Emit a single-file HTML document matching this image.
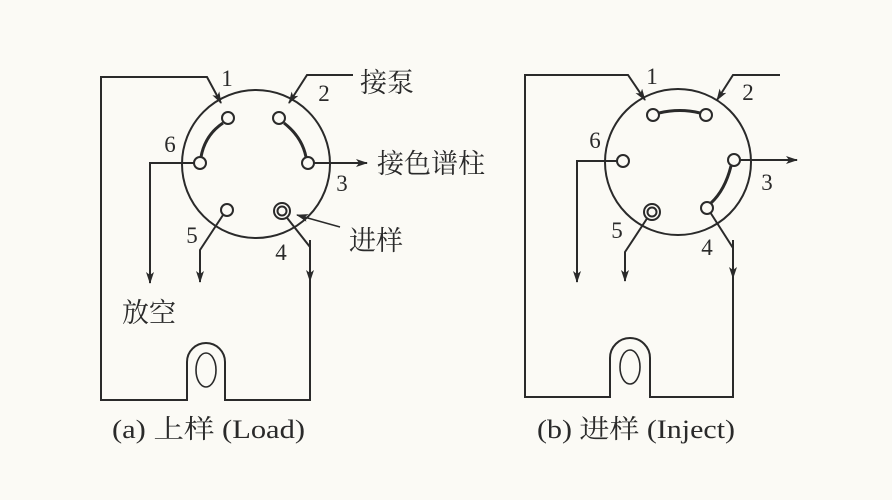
<!DOCTYPE html>
<html><head><meta charset="utf-8"><style>
body{margin:0;background:#fbfaf5}
svg text{font-family:"Liberation Serif","Noto Serif CJK SC",serif;fill:#2a2a2a}
</style></head><body>
<svg width="892" height="495" viewBox="0 0 892 495" xmlns="http://www.w3.org/2000/svg">
<defs><marker id="a" markerWidth="12" markerHeight="8" refX="11" refY="4" orient="auto" markerUnits="userSpaceOnUse"><path d="M0,0 L12,4 L0,8 L3,4z" fill="#2a2a2a"/></marker></defs>
<g stroke="#2a2a2a" stroke-width="2" fill="none">
<circle cx="256" cy="164" r="74"/>
<path d="M310,277 V247 L284,214"/>
<path d="M310,277 V400 H225 V362 A19,19 0 0 0 187,362 V400 H101 V77 H207 L221,103" marker-end="url(#a)"/>
<path d="M310,240 V281" marker-end="url(#a)"/>
<path d="M353,75 H307 L289,103" marker-end="url(#a)"/>
<path d="M194,163 H150 V283" marker-end="url(#a)"/>
<path d="M223,215 L200,250 V282" marker-end="url(#a)"/>
<path d="M314,163 H367" marker-end="url(#a)"/>
<path d="M340,227 L297,215" stroke-width="1.5" marker-end="url(#a)"/>
<ellipse cx="206" cy="370" rx="10" ry="17" stroke-width="1.6"/>
<path d="M223,123 Q205,135 201,157" stroke-width="3"/>
<path d="M284,123 Q302,137 306,157" stroke-width="3"/>
<g fill="#fbfaf5"><circle cx="228" cy="118" r="6"/><circle cx="279" cy="118" r="6"/><circle cx="200" cy="163" r="6"/><circle cx="308" cy="163" r="6"/><circle cx="227" cy="210" r="6"/><circle cx="282" cy="211" r="8"/><circle cx="282" cy="211" r="4.5"/></g>
<circle cx="678" cy="162" r="73"/>
<path d="M733,248 L710,212"/>
<path d="M733,273 V397 H650 V358 A20,20 0 0 0 610,358 V397 H525 V75 H628 L645,100" marker-end="url(#a)"/>
<path d="M733,240 V278" marker-end="url(#a)"/>
<path d="M780,75 H733 L717,100" marker-end="url(#a)"/>
<path d="M617,161 H577 V282" marker-end="url(#a)"/>
<path d="M648,217 L625,252 V281" marker-end="url(#a)"/>
<path d="M740,160 H797" marker-end="url(#a)"/>
<ellipse cx="630" cy="367" rx="10" ry="17" stroke-width="1.6"/>
<path d="M659,113 Q680,108 700,113" stroke-width="3"/>
<path d="M731,166 Q725,190 711,203" stroke-width="3"/>
<g fill="#fbfaf5"><circle cx="653" cy="115" r="6"/><circle cx="706" cy="115" r="6"/><circle cx="623" cy="161" r="6"/><circle cx="734" cy="160" r="6"/><circle cx="707" cy="208" r="6"/><circle cx="652" cy="212" r="8"/><circle cx="652" cy="212" r="4.5"/></g>
</g>
<g font-size="23" text-anchor="middle">
<text x="227" y="86">1</text><text x="324" y="101">2</text><text x="170" y="152">6</text><text x="342" y="191">3</text><text x="192" y="243">5</text><text x="281" y="260">4</text>
<text x="652" y="84">1</text><text x="748" y="100">2</text><text x="595" y="148">6</text><text x="767" y="190">3</text><text x="617" y="238">5</text><text x="707" y="255">4</text>
</g>
<g font-size="27">
<text x="360" y="92">接泵</text>
<text x="377" y="173">接色谱柱</text>
<text x="349" y="250">进样</text>
<text x="122" y="322">放空</text>
</g>
<g font-size="26" textLength="192">
<text x="112" y="438" textLength="193" lengthAdjust="spacingAndGlyphs">(a) 上样 (Load)</text>
<text x="537" y="438" textLength="198" lengthAdjust="spacingAndGlyphs">(b) 进样 (Inject)</text>
</g>
</svg>
</body></html>
